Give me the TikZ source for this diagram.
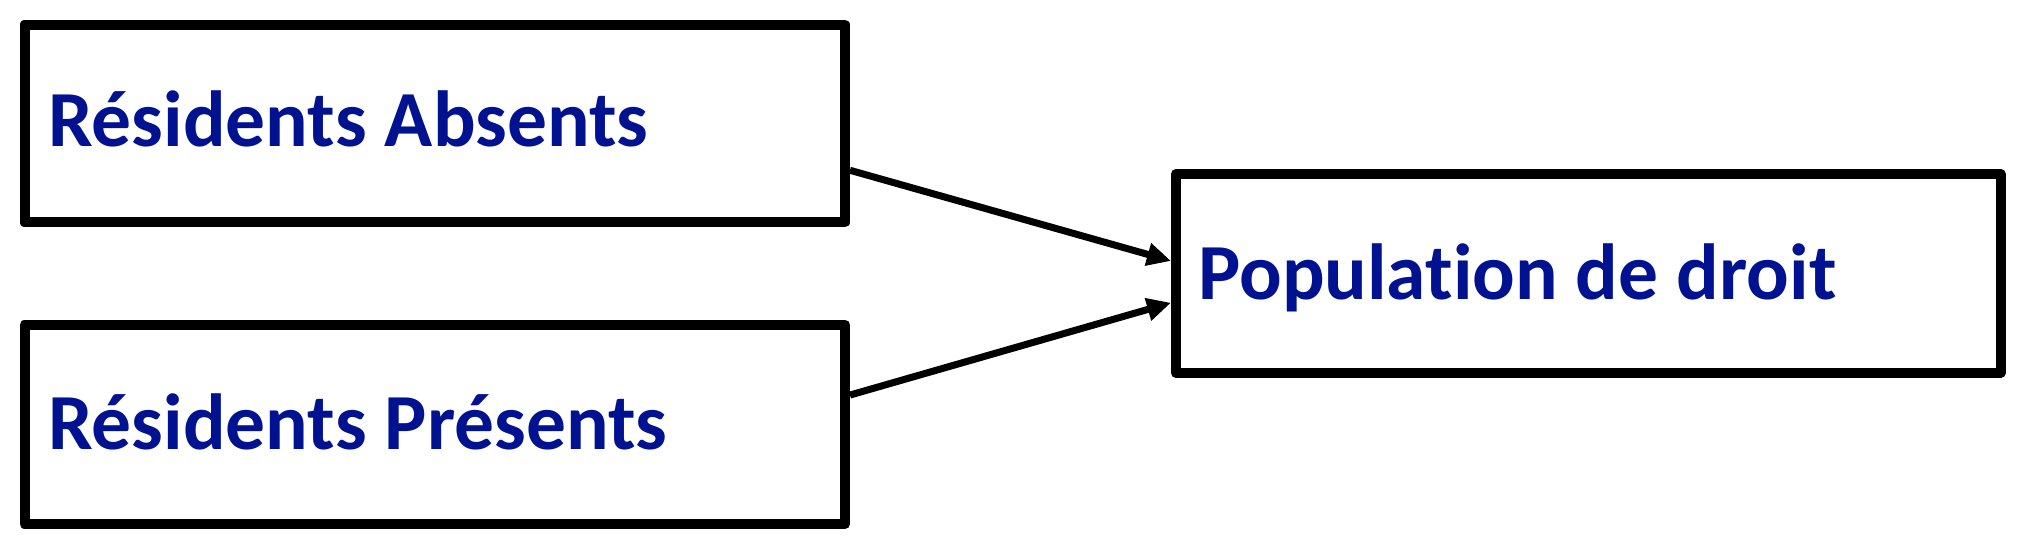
\documentclass[tikz,border=0pt]{standalone}
\usepackage{fontspec}
\setmainfont[Ligatures={NoCommon}]{Carlito}
\usetikzlibrary{calc,arrows.meta}
\definecolor{txtblue}{RGB}{0,18,143}
\tikzset{
  boxnode/.style={draw=black, line width=10pt, line join=round, inner sep=0pt},
  lbl/.style={anchor=base west, inner sep=0pt, text=txtblue, font=\fontsize{79.5}{90}\selectfont\bfseries},
  conn/.style={line width=7pt, -{Triangle[length=24pt,width=22pt]}}
}
\begin{document}
\begin{tikzpicture}[x=1pt,y=-1pt]
\useasboundingbox (0,0) rectangle (2038,550);
\node[boxnode, minimum width=820.5pt, minimum height=197.9pt] (b1) at (434.75,123.5) {};
\node[boxnode, minimum width=820.5pt, minimum height=199.3pt] (b2) at (434.75,424.35) {};
\node[boxnode, minimum width=824.5pt, minimum height=199pt] (b3) at (1588.25,273.5) {};
\node[lbl] (t1) at (48,146.9) {Résidents Absents};
\node[lbl] (t2) at (48,449.5) {Résidents Présents};
\node[lbl] (t3) at (1198,299) {Population de droit};
\coordinate (s1) at ($(b1.north east)!0.725!(b1.south east)$);
\coordinate (s2) at ($(b2.north east)!0.36!(b2.south east)$);
\coordinate (e1) at ($(b3.north west)!0.44!(b3.south west)$);
\coordinate (e2) at ($(b3.north west)!0.64!(b3.south west)$);
\draw[conn] (s1) -- (e1);
\draw[conn] (s2) -- (e2);
\end{tikzpicture}
\end{document}
